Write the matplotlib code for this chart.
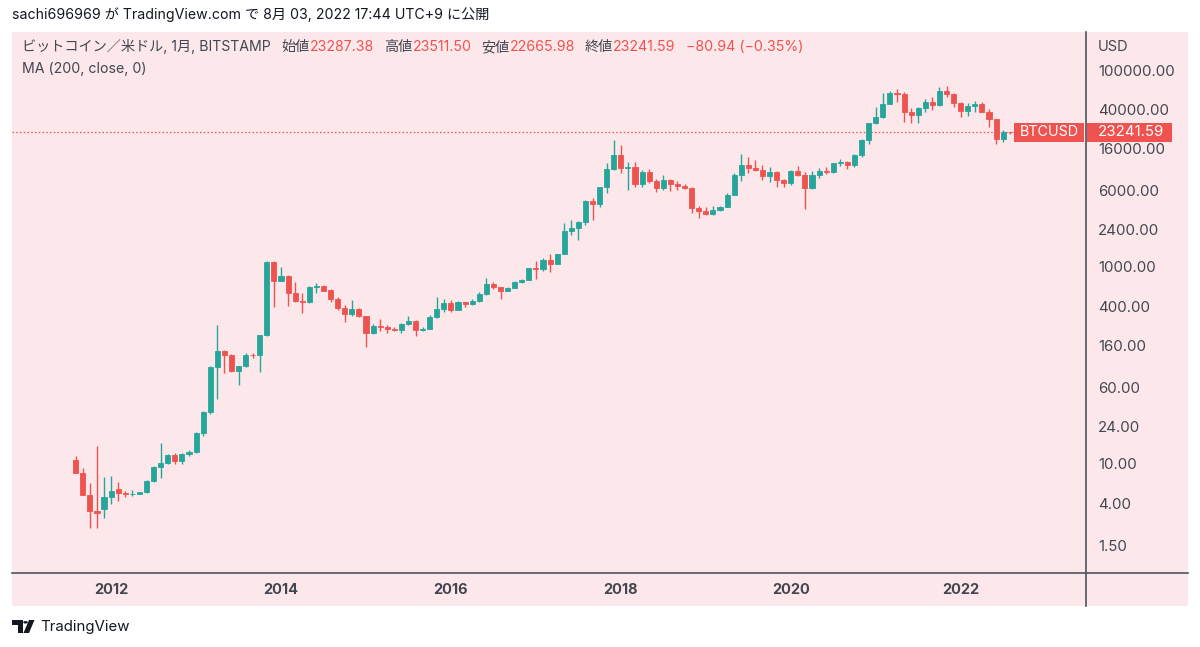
import numpy as np
import pandas as pd
import matplotlib
matplotlib.use("Agg")
import matplotlib.pyplot as plt
from matplotlib.patches import Rectangle, Polygon, Circle
from matplotlib.lines import Line2D
from matplotlib.ticker import NullLocator

plt.rcParams['font.family'] = ['Inter', 'Noto Sans CJK JP', 'DejaVu Sans']

# monthly BITSTAMP BTCUSD candles, Aug 2011 .. Aug 2022
months = pd.date_range('2011-08-01', periods=133, freq='MS')

opens = [11.0, 8.1, 4.85, 3.3, 3.45,
         4.62, 5.55, 5.05, 4.9, 4.95, 5.15, 6.7, 9.3, 10.2, 12.3, 10.7, 12.6,
         13.3, 20.6, 33.4, 97, 141, 128, 88.7, 98.8, 129, 127, 204, 1132,
         726, 811, 548, 452, 446, 631, 640, 588, 475, 387, 333, 375,
         318, 215, 254, 244, 236, 230, 264, 285, 230, 236, 313, 377,
         430, 368, 437, 416, 448, 531, 672, 624, 575, 608, 700, 742,
         966, 962, 1190, 1079, 1348, 2300, 2480, 2860, 4700, 4330, 6450, 9900,
         13800, 10100, 10300, 6920, 9240, 7500, 6400, 7730, 7030, 6630, 6300, 4000,
         3740, 3430, 3820, 4100, 5350, 8550, 10800, 10080, 9600, 8300, 9150, 7560,
         7190, 9350, 8540, 6410, 8630, 9450, 9140, 11350, 11650, 10780, 13800, 19700,
         28990, 33100, 45150, 58800, 57700, 37300, 35040, 41460, 47100, 43800, 61300, 57000,
         46200, 38500, 43200, 45500, 37700, 31800, 19900, 23287.38]

highs = [12.1, 9.0, 6.4, 15.2, 7.4,
         7.5, 6.55, 5.35, 5.4, 5.2, 6.8, 9.5, 16.3, 12.7, 12.8, 13.0, 13.8,
         21.0, 34.5, 98, 258, 142, 130, 99.5, 135, 133, 206, 1158, 1160,
         1007, 830, 710, 548, 640, 690, 650, 600, 490, 412, 462, 380,
         320, 263, 297, 260, 247, 268, 318, 290, 243, 326, 500, 470,
         460, 448, 440, 468, 560, 778, 700, 626, 620, 715, 750, 980,
         1150, 1220, 1355, 1350, 2780, 2980, 2920, 4760, 4980, 6470, 11400, 19600,
         17200, 11750, 11650, 9750, 9820, 7770, 8500, 7750, 7400, 7000, 6550, 4200,
         4100, 4200, 4150, 5600, 9100, 13880, 13200, 12300, 10950, 10350, 9500, 7750,
         9590, 10500, 9200, 9460, 10080, 10380, 11450, 12480, 12050, 14100, 19900, 29300,
         41900, 58300, 61800, 64900, 59600, 41300, 42300, 50500, 52900, 67000, 69000, 59100,
         47900, 45800, 48200, 47400, 40000, 31900, 24700, 23511.50]

lows = [8.0, 4.8, 2.24, 2.24, 2.85,
        3.95, 4.2, 4.65, 4.75, 4.9, 5.1, 6.5, 7.2, 10.0, 9.9, 10.0, 12.0,
        13.0, 19.0, 32.5, 45.4, 83, 85, 63.4, 96, 118, 86.7, 200, 390,
        720, 402, 440, 343, 430, 548, 565, 445, 366, 278, 320, 310,
        155, 208, 226, 215, 225, 216, 255, 201, 225, 235, 300, 352,
        352, 366, 392, 412, 440, 525, 594, 470, 570, 605, 690, 740,
        750, 920, 897, 1060, 1340, 2100, 1880, 2700, 3000, 4100, 5600, 9750,
        9100, 6000, 6500, 6430, 7070, 5800, 6070, 5880, 6100, 6200, 3500, 3150,
        3400, 3390, 3700, 4050, 5330, 7450, 9100, 9400, 7730, 7300, 6550, 6430,
        6860, 8450, 3850, 6150, 8100, 8900, 8950, 10520, 9880, 10400, 13200, 17600,
        28100, 32300, 45000, 47000, 30000, 28800, 29300, 37300, 39600, 43300, 53300, 42000,
        33000, 34300, 37200, 37600, 26700, 17600, 18800, 22665.98]

closes = [8.1, 4.85, 3.3, 3.2, 4.62,
          5.3, 5.08, 4.9, 5.0, 5.15, 6.7, 9.3, 10.2, 12.3, 10.7, 12.6, 13.3,
          20.6, 33.4, 97, 141, 128, 88.7, 98.8, 128, 127, 204, 1132, 726,
          811, 548, 452, 446, 631, 646, 575, 470, 387, 333, 375, 318,
          215, 254, 244, 236, 230, 264, 285, 230, 236, 313, 377, 430,
          368, 437, 416, 448, 531, 672, 624, 575, 608, 700, 742, 966,
          962, 1190, 1079, 1348, 2300, 2480, 2860, 4700, 4330, 6450, 9900, 13800,
          10100, 10300, 6920, 9240, 7500, 6400, 7730, 7030, 6630, 6300, 4000, 3740,
          3430, 3820, 4100, 5350, 8550, 10800, 10080, 9600, 8300, 9150, 7560, 7190,
          9350, 8540, 6410, 8630, 9450, 9140, 11350, 11650, 10780, 13800, 19700, 28990,
          33100, 45150, 58800, 57700, 37300, 35040, 41460, 47100, 43800, 61300, 57000, 46200,
          38500, 43200, 45500, 37700, 31800, 19900, 23300, 23241.59]

price_ticks = [100000, 40000, 16000, 6000, 2400, 1000, 400, 160, 60, 24, 10, 4, 1.5]
year_labels = ['2012', '2014', '2016', '2018', '2020', '2022']

UP = '#26a69a'
DOWN = '#ef5350'
BG = '#fce8ea'
AXC = '#4c525e'
TXT = '#434651'

W, H = 1200, 647
fig = plt.figure(figsize=(12, 6.47), dpi=100)


def fx(px):
    return px / W


def fy(py):
    return 1 - py / H


# pink panel behind plot + axes strips
fig.patches.append(Rectangle((fx(12), fy(606)), fx(1188) - fx(12), fy(32) - fy(606),
                             transform=fig.transFigure, facecolor=BG, edgecolor='none', zorder=-5))

ax = fig.add_axes([fx(12), fy(573), fx(1086) - fx(12), fy(32) - fy(573)])
ax.set_facecolor('none')
for s in ax.spines.values():
    s.set_visible(False)

o = np.array(opens)
h = np.array(highs)
l = np.array(lows)
c = np.array(closes)
x = np.arange(len(months))
cols = np.where(c >= o, UP, DOWN)

ax.vlines(x, l, h, colors=cols, linewidth=1.0, zorder=2)
ax.bar(x, np.abs(c - o), bottom=np.minimum(o, c), width=0.72, color=cols,
       edgecolor=cols, linewidth=0.6, zorder=3)

ax.set_yscale('log')
ax.set_xlim(-9.0, 142.7)
ax.set_ylim(0.78, 243500)

ax.yaxis.tick_right()
ax.set_yticks(price_ticks)
ax.set_yticklabels([f'{v:.2f}' for v in price_ticks])
ax.yaxis.set_minor_locator(NullLocator())
ax.tick_params(axis='y', length=0, pad=8.6, labelsize=10.8, labelcolor=TXT)

jan_idx = [i for i, m in enumerate(months) if m.month == 1 and m.year % 2 == 0]
ax.set_xticks(jan_idx)
ax.set_xticklabels(year_labels, fontweight='bold')
ax.tick_params(axis='x', length=0, pad=7.0, labelsize=10.5, labelcolor=TXT)

# last price dotted line
last = closes[-1]
ax.axhline(last, color=DOWN, linestyle=(0, (1.2, 1.8)), linewidth=0.9, zorder=1)

# axis border lines
fig.lines.append(Line2D([fx(1086), fx(1086)], [fy(32), fy(606)], transform=fig.transFigure,
                        color=AXC, linewidth=1.2))
fig.lines.append(Line2D([fx(12), fx(1188)], [fy(573), fy(573)], transform=fig.transFigure,
                        color=AXC, linewidth=1.2))

# price labels
ypix = ax.transData.transform((0, last))[1]
yf = ypix / H
bh = 19 / H
fig.patches.append(Rectangle((fx(1014), yf - bh / 2), fx(1084) - fx(1014), bh,
                             transform=fig.transFigure, facecolor=DOWN, edgecolor='none', zorder=5))
fig.patches.append(Rectangle((fx(1087), yf - bh / 2), fx(1172) - fx(1087), bh,
                             transform=fig.transFigure, facecolor=DOWN, edgecolor='none', zorder=5))
fig.text(fx(1049), yf, 'BTCUSD', color='white', fontsize=10.3, ha='center', va='center', zorder=6)
fig.text(fx(1098), yf, f'{last:.2f}', color='white', fontsize=10.8, ha='left', va='center', zorder=6)

fig.text(fx(1098), fy(47), 'USD', color=TXT, fontsize=10.5, ha='left', va='center')

# header texts
fig.text(fx(12), fy(15), 'sachi696969 が TradingView.com で 8月 03, 2022 17:44 UTC+9 に公開',
         color='#131722', fontsize=10.2, ha='left', va='center')

renderer = fig.canvas.get_renderer()
pieces = [
    ('ビットコイン／米ドル, 1月, BITSTAMP', TXT, 11),
    ('始値', TXT, 0), (f'{opens[-1]:.2f}', DOWN, 10),
    ('高値', TXT, 0), (f'{highs[-1]:.2f}', DOWN, 10),
    ('安値', TXT, 0), (f'{lows[-1]:.2f}', DOWN, 10),
    ('終値', TXT, 0), (f'{closes[-1]:.2f}', DOWN, 10),
    ('−80.94 (−0.35%)', DOWN, 0),
]
xpos = 22
for s, col, gap in pieces:
    t = fig.text(fx(xpos), fy(47), s, color=col, fontsize=10.2, ha='left', va='center')
    bb = t.get_window_extent(renderer)
    xpos += bb.width + gap

fig.text(fx(22), fy(69), 'MA (200, close, 0)', color=TXT, fontsize=10.2, ha='left', va='center')

# TradingView logo
k = '#131722'
fig.patches.append(Polygon([(fx(12), fy(620)), (fx(22.5), fy(620)), (fx(22.5), fy(633)),
                            (fx(17.5), fy(633)), (fx(17.5), fy(624.5)), (fx(12), fy(624.5))],
                           closed=True, transform=fig.transFigure, facecolor=k, edgecolor='none'))
fig.patches.append(Circle((fx(25.5), fy(622.3)), 2.3 / W, transform=fig.transFigure,
                          facecolor=k, edgecolor='none'))
fig.patches.append(Polygon([(fx(29), fy(620)), (fx(34.5), fy(620)), (fx(29), fy(633)),
                            (fx(23.5), fy(633))],
                           closed=True, transform=fig.transFigure, facecolor=k, edgecolor='none'))
fig.text(fx(40), fy(627), 'TradingView', color=k, fontsize=10.8, ha='left', va='center')

fig.savefig('out.png', dpi=100, facecolor='white')
